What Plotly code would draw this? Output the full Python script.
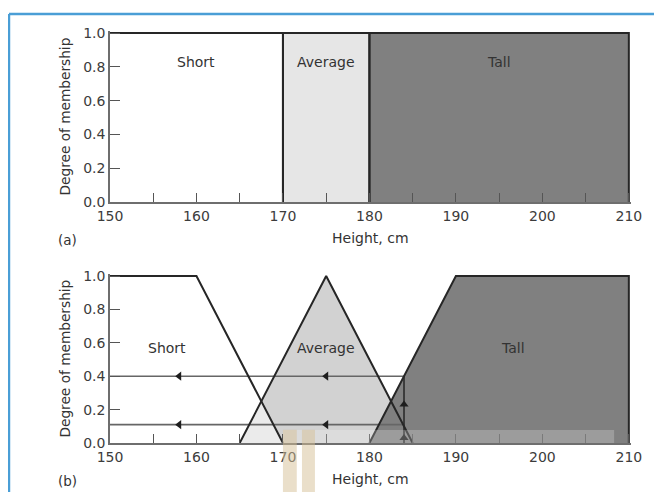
import plotly.graph_objects as go

# ---------------- data ----------------
x_ticks = [150, 160, 170, 180, 190, 200, 210]
y_ticks = [0.0, 0.2, 0.4, 0.6, 0.8, 1.0]
set_names = ["Short", "Average", "Tall"]

# (a) crisp sets: [start, end] of each set, membership 1 inside
crisp_short = [150, 170]
crisp_average = [170, 180]
crisp_tall = [180, 210]

# (b) fuzzy sets
fuzzy_short_x = [150, 160, 170]
fuzzy_short_y = [1.0, 1.0, 0.0]
fuzzy_average_x = [165, 175, 185]
fuzzy_average_y = [0.0, 1.0, 0.0]
fuzzy_tall_x = [180, 190, 210, 210]
fuzzy_tall_y = [0.0, 1.0, 1.0, 0.0]

# example height and its membership degrees (tall, average)
sample_height = 184
sample_degrees = [0.4, 0.11]
left_arrow_x = [158, 175]
up_arrow_y = [0.03, 0.23]

# label anchor points
crisp_label_x = [160, 175, 195]
crisp_label_y = 0.83
fuzzy_label_x = [156.6, 175, 196.6]
fuzzy_label_y = 0.57

# ---------------- style ----------------
FONT = "DejaVu Sans"
C_WHITE = "#ffffff"
C_LIGHT = "#e6e6e6"
C_MID = "#d2d2d2"
C_DARK = "#808080"
C_EDGE = "#262626"
C_AXIS = "#6e6e6e"
C_TEXT = "#333333"

fig = go.Figure()


def rect_xy(span):
    a, b = span
    return [a, b, b, a, a], [0, 0, 1, 1, 0]


# ---- (a) fills
for span, col in [(crisp_short, C_WHITE), (crisp_average, C_LIGHT), (crisp_tall, C_DARK)]:
    rx, ry = rect_xy(span)
    fig.add_trace(go.Scatter(x=rx, y=ry, fill="toself", fillcolor=col, mode="lines",
                             line=dict(width=0), hoverinfo="skip", showlegend=False,
                             xaxis="x", yaxis="y"))
# ---- (a) outlines
for span in [crisp_short, crisp_average, crisp_tall]:
    a, b = span
    ox = [a, a, b, b] if a != crisp_short[0] else [a, b, b]
    oy = [0, 1, 1, 0] if a != crisp_short[0] else [1, 1, 0]
    fig.add_trace(go.Scatter(x=ox, y=oy, mode="lines", line=dict(color=C_EDGE, width=2),
                             hoverinfo="skip", showlegend=False, xaxis="x", yaxis="y"))

# ---- (b) fills
fig.add_trace(go.Scatter(x=fuzzy_average_x + [fuzzy_average_x[0]],
                         y=fuzzy_average_y + [fuzzy_average_y[0]],
                         fill="toself", fillcolor=C_MID, mode="lines", line=dict(width=0),
                         hoverinfo="skip", showlegend=False, xaxis="x2", yaxis="y2"))
fig.add_trace(go.Scatter(x=[fuzzy_short_x[0]] + fuzzy_short_x + [fuzzy_short_x[0]],
                         y=[0] + fuzzy_short_y + [0],
                         fill="toself", fillcolor="rgba(255,255,255,0.55)", mode="lines",
                         line=dict(width=0), hoverinfo="skip", showlegend=False,
                         xaxis="x2", yaxis="y2"))
fig.add_trace(go.Scatter(x=fuzzy_tall_x + [fuzzy_tall_x[0]],
                         y=fuzzy_tall_y + [fuzzy_tall_y[0]],
                         fill="toself", fillcolor=C_DARK, mode="lines", line=dict(width=0),
                         hoverinfo="skip", showlegend=False, xaxis="x2", yaxis="y2"))

# ---- (b) projection lines
for d in sample_degrees:
    fig.add_trace(go.Scatter(x=[150, sample_height], y=[d, d], mode="lines",
                             line=dict(color="#666666", width=1.6), hoverinfo="skip",
                             showlegend=False, xaxis="x2", yaxis="y2"))
    fig.add_trace(go.Scatter(x=left_arrow_x, y=[d] * len(left_arrow_x), mode="markers",
                             marker=dict(symbol="triangle-left", size=8, color="#1e1e1e"),
                             hoverinfo="skip", showlegend=False, xaxis="x2", yaxis="y2"))
fig.add_trace(go.Scatter(x=[sample_height, sample_height], y=[0, max(sample_degrees)],
                         mode="lines", line=dict(color="#1e1e1e", width=1.4),
                         hoverinfo="skip", showlegend=False, xaxis="x2", yaxis="y2"))
fig.add_trace(go.Scatter(x=[sample_height] * len(up_arrow_y), y=up_arrow_y, mode="markers",
                         marker=dict(symbol="triangle-up", size=8, color="#1e1e1e"),
                         hoverinfo="skip", showlegend=False, xaxis="x2", yaxis="y2"))

# ---- (b) outlines
for xs, ys in [(fuzzy_short_x, fuzzy_short_y), (fuzzy_average_x, fuzzy_average_y),
               (fuzzy_tall_x, fuzzy_tall_y)]:
    fig.add_trace(go.Scatter(x=xs, y=ys, mode="lines", line=dict(color=C_EDGE, width=2),
                             hoverinfo="skip", showlegend=False, xaxis="x2", yaxis="y2"))

# ---------------- axes ----------------
xa = dict(range=[150, 210.25], tickvals=x_ticks, ticks="inside", ticklen=9, tickwidth=1.3,
          tickcolor="#555555", showline=True, linecolor=C_AXIS, linewidth=1.6,
          showgrid=False, zeroline=False, tickfont=dict(family=FONT, size=14, color="#3c3c3c"),
          minor=dict(ticks="inside", ticklen=9, dtick=5, tickwidth=1.3, tickcolor="#555555",
                     showgrid=False),
          fixedrange=True)
ya = dict(range=[0, 1.012], tickvals=y_ticks, tickformat=".1f", ticks="inside", ticklen=10,
          tickwidth=1.3, tickcolor="#555555", showline=True, linecolor=C_AXIS, linewidth=1.6,
          showgrid=False, zeroline=False, tickfont=dict(family=FONT, size=14, color="#3c3c3c"),
          fixedrange=True)

# the page body adds an 8px offset, so the figure is 654x484 inside the 662x492 window
fig.update_layout(
    width=654, height=484,
    margin=dict(l=102, r=31, t=23, b=49),
    paper_bgcolor="white", plot_bgcolor="white",
    showlegend=False,
    xaxis=dict(xa, anchor="y", domain=[0, 1]),
    yaxis=dict(ya, anchor="x", domain=[0.585, 1.0]),
    xaxis2=dict(xa, anchor="y2", domain=[0, 1]),
    yaxis2=dict(ya, anchor="x2", domain=[0.0, 0.410]),
)

ann = []
for xr, yr, sfx in [("x", "y", "a"), ("x2", "y2", "b")]:
    ann.append(dict(text="Height, cm", xref=xr + " domain", yref=yr + " domain", x=0.5, y=0,
                    yshift=-36, showarrow=False, yanchor="middle",
                    font=dict(family=FONT, size=14, color=C_TEXT)))
    ann.append(dict(text="Degree of membership", xref=xr + " domain", yref=yr + " domain",
                    x=0, y=0.5, xshift=-45, textangle=-90, showarrow=False,
                    xanchor="center", yanchor="middle",
                    font=dict(family=FONT, size=13.7, color=C_TEXT)))
    ann.append(dict(text="(" + sfx + ")", xref=xr + " domain", yref=yr + " domain", x=0, y=0,
                    xshift=-43, yshift=-38, showarrow=False, xanchor="center",
                    yanchor="middle", font=dict(family=FONT, size=13.5, color=C_TEXT)))
for name, lx in zip(set_names, crisp_label_x):
    ann.append(dict(text=name, x=lx, y=crisp_label_y, xref="x", yref="y", showarrow=False,
                    font=dict(family=FONT, size=14, color=C_TEXT)))
for name, lx in zip(set_names, fuzzy_label_x):
    ann.append(dict(text=name, x=lx, y=fuzzy_label_y, xref="x2", yref="y2", showarrow=False,
                    font=dict(family=FONT, size=14, color=C_TEXT)))
fig.update_layout(annotations=ann)

shapes = [
    # blue page frame
    dict(type="line", xref="paper", yref="paper", x0=-0.1939, x1=1.2, y0=1.0413, y1=1.0413,
         line=dict(color="#4a9ed6", width=2.5)),
    dict(type="line", xref="paper", yref="paper", x0=-0.1939, x1=-0.1939, y0=-0.2, y1=1.0413,
         line=dict(color="#4a9ed6", width=2.5)),
    # scan artifacts in panel (b)
    dict(type="rect", xref="x2", yref="y2", x0=170, x1=208.3, y0=0, y1=0.078,
         fillcolor="rgba(255,255,255,0.22)", line=dict(width=0), layer="above"),
    dict(type="rect", xref="x2", yref="paper", x0=170.0, x1=171.6, y0=-0.2, y1=0.032,
         fillcolor="rgba(214,192,150,0.5)", line=dict(width=0), layer="above"),
    dict(type="rect", xref="x2", yref="paper", x0=172.2, x1=173.7, y0=-0.2, y1=0.032,
         fillcolor="rgba(214,192,150,0.5)", line=dict(width=0), layer="above"),
]
fig.update_layout(shapes=shapes)

fig.write_html("out.html")
